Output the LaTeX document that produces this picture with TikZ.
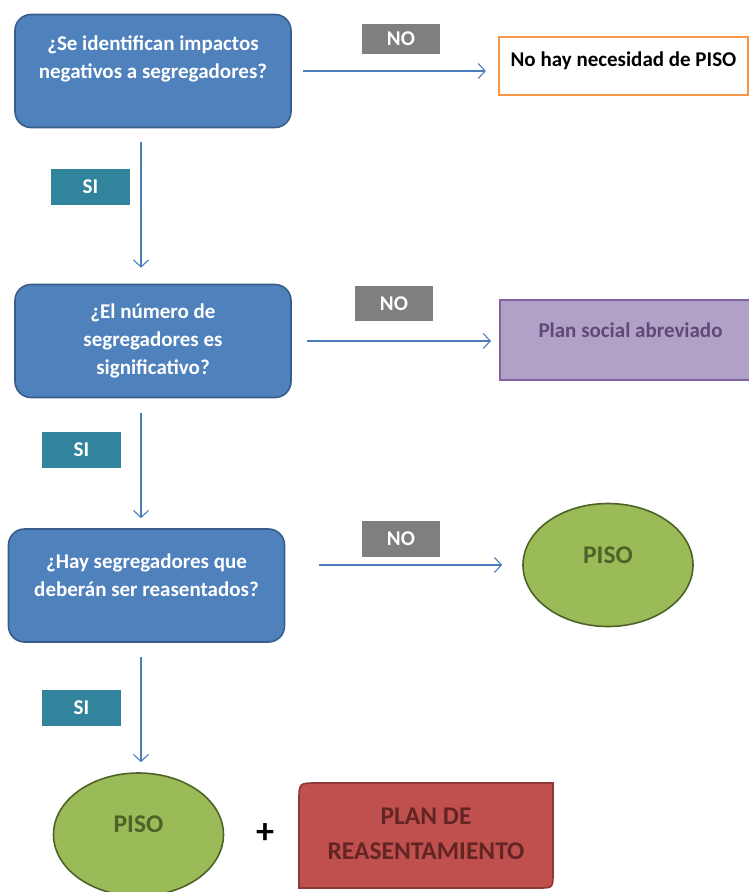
\documentclass[tikz,border=0pt]{standalone}
\usepackage{fontspec}
\setmainfont{Carlito}
\usetikzlibrary{arrows.meta}
\usetikzlibrary{positioning}
\usetikzlibrary{shapes.geometric}

\definecolor{qblue}{HTML}{4F81BD}
\definecolor{qline}{HTML}{385D8A}
\definecolor{flowblue}{HTML}{4A7EBB}
\definecolor{nogray}{HTML}{7F7F7F}
\definecolor{siteal}{HTML}{31849B}
\definecolor{orangeline}{HTML}{F79646}
\definecolor{lila}{HTML}{B2A1C7}
\definecolor{lilaline}{HTML}{8064A2}
\definecolor{lilatext}{HTML}{5F497A}
\definecolor{pisogreen}{HTML}{9BBB59}
\definecolor{pisoline}{HTML}{4F6228}
\definecolor{planred}{HTML}{C0504D}
\definecolor{planline}{HTML}{8C3836}
\definecolor{plantext}{HTML}{632523}

\begin{document}
\begin{tikzpicture}[x=1pt,y=-1pt,
  question/.style={rectangle,rounded corners=16pt,draw=qline,line width=1.6pt,fill=qblue,text=white,
    font=\fontsize{21}{28}\selectfont\bfseries,align=center,minimum width=276pt,minimum height=113pt,inner sep=0pt},
  nobox/.style={rectangle,fill=nogray,text=white,font=\fontsize{21}{24}\selectfont\bfseries,minimum width=78pt,minimum height=35pt,inner sep=0pt},
  sibox/.style={rectangle,fill=siteal,text=white,font=\fontsize{21}{24}\selectfont\bfseries,minimum width=79pt,minimum height=36pt,inner sep=0pt},
  pisonode/.style={ellipse,draw=pisoline,line width=1.6pt,fill=pisogreen,text=pisoline,
    font=\fontsize{25.5}{28}\selectfont\bfseries,minimum width=170pt,minimum height=123pt,inner sep=0pt,text depth=20pt},
  flow/.style={draw=flowblue,line width=1.1pt,-{Straight Barb[length=7pt,width=15pt,line width=1.1pt]}}]
\clip (0,0) rectangle (749,892);

% preguntas
\node[question,text depth=27pt] (q1) at (153,71) {¿Se identifican impactos\\negativos a segregadores?};
\node[question] (q2) at (153,341) {¿El número de\\segregadores es\\significativo?};
\node[question,text depth=21pt] (q3) at (146.5,585.5) {¿Hay segregadores que\\deberán ser reasentados?};

% resultados
\node[rectangle,draw=orangeline,line width=2.2pt,fill=white,font=\fontsize{21}{24}\selectfont\bfseries,
  minimum width=249pt,minimum height=58pt,inner sep=0pt,text depth=13pt] (a1) at (623.5,66) {No hay necesidad de PISO};
\node[rectangle,draw=lilaline,line width=2pt,fill=lila,text=lilatext,font=\fontsize{21}{24}\selectfont\bfseries,
  minimum width=261pt,minimum height=80pt,inner sep=0pt,text depth=20pt] (a2) at (630.5,340) {Plan social abreviado};
\node[pisonode] (e1) at (608,565) {PISO};
\node[pisonode] (e2) at (138.5,834.5) {PISO};

\draw[fill=planred,draw=planline,line width=1.6pt] (299,888) -- (299,801) .. controls (299,783) .. (317,783)
  -- (553,783) -- (553,873) .. controls (553,888) .. (538,888) -- cycle;
\node[text=plantext,font=\fontsize{25.5}{35}\selectfont\bfseries,align=center] (plan) at (426,834) {PLAN DE\\REASENTAMIENTO};
\node[font=\fontsize{36}{36}\selectfont\bfseries] (plus) at (265,834) {+};

% flechas
\draw[flow,shorten <=11pt,shorten >=12pt] (q1.east) -- (q1.east -| a1.west);
\draw[flow,shorten <=15pt,shorten >=8pt] (q2.east) -- (q2.east -| a2.west);
\draw[flow,shorten <=34pt,shorten >=20pt] (e1.west -| q3.east) -- (e1.west);
\draw[flow,shorten <=14pt,shorten >=16pt] ([xshift=-12pt]q1.south) -- ([xshift=-12pt]q2.north);
\draw[flow,shorten <=15pt,shorten >=10pt] ([xshift=-12pt]q2.south) -- ([xshift=-5.5pt]q3.north);
\draw[flow,shorten <=14pt,shorten >=10pt] ([xshift=-5.5pt]q3.south) -- ([xshift=2.5pt]e2.north);

% etiquetas
\node[nobox,minimum height=30pt] (no1) at (401,38.5) {NO};
\node[nobox] (no2) at (394,303.5) {NO};
\node[nobox,minimum height=36pt] (no3) at (401,539) {NO};
\node[sibox] (si1) at (90.5,187) {SI};
\node[sibox] (si2) at (81.5,450) {SI};
\node[sibox] (si3) at (81.5,707.5) {SI};

\end{tikzpicture}
\end{document}
